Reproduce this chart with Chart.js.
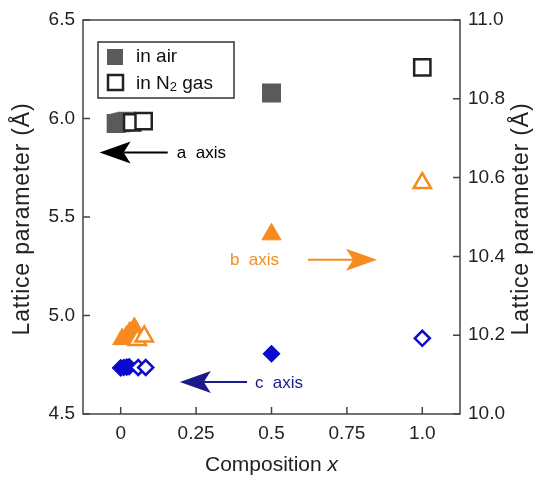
<!DOCTYPE html>
<html><head><meta charset="utf-8">
<script src="https://cdn.jsdelivr.net/npm/chart.js@4.4.1/dist/chart.umd.min.js"></script>
<style>html,body{margin:0;padding:0;background:#fff;}#wrap{width:541px;height:477px;}</style>
</head><body><div id="wrap"><canvas id="c" width="541" height="477"></canvas></div>
<script>
// ---- data ----
const xTickValues = [0, 0.25, 0.5, 0.75, 1.0];
const xTickLabels = ['0', '0.25', '0.5', '0.75', '1.0'];
const leftTickValues = [4.5, 5.0, 5.5, 6.0, 6.5];
const rightTickValues = [10.0, 10.2, 10.4, 10.6, 10.8, 11.0];

// a axis (left scale)
const aAirX = [-0.015, 0, 0.01, 0.02, 0.5];
const aAirY = [5.975, 5.978, 5.982, 5.986, 6.13];
const aN2X = [0.038, 0.076, 1.0];
const aN2Y = [5.98, 5.987, 6.26];
// b axis (right scale)
const bAirX = [0.005, 0.02, 0.03, 0.045, 0.5];
const bAirY = [10.19, 10.197, 10.207, 10.218, 10.456];
const bN2X = [0.055, 0.078, 1.0];
const bN2Y = [10.188, 10.197, 10.586];
// c axis (right scale)
const cAirX = [0, 0.01, 0.02, 0.028, 0.5];
const cAirY = [10.117, 10.118, 10.119, 10.12, 10.153];
const cN2X = [0.058, 0.083, 1.0];
const cN2Y = [10.118, 10.118, 10.192];

const legendLabels = ['in air', 'in N', '2', ' gas'];
const axisTitleY = 'Lattice parameter (Å)';
const axisTitleX = 'Composition ';
const axisTitleXItalic = 'x';
// arrow annotations in data units (left-scale y): tail x, tip x, y, label x
const arrowTexts = ['a  axis', 'b  axis', 'c  axis'];
const arrowTailX = [0.156, 0.621, 0.419];
const arrowTipX = [-0.07, 0.850, 0.196];
const arrowY = [5.828, 5.283, 4.662];
const arrowTextX = [0.186, 0.362, 0.445];

const FONT = '"Liberation Sans", Arial, Helvetica, sans-serif';
const ORANGE = '#f68b1f';
const BLUE = '#0a0ad0';
const NAVY = '#1a1a8c';
const GRAY = '#5a5a5a';
const DARK = '#222222';
const arrowColors = ['#000000', ORANGE, NAVY];

const pts = (xs, ys) => xs.map((x, i) => ({x: x, y: ys[i]}));

const data = {
  datasets: [
    {label: 'a in N2', data: pts(aN2X, aN2Y), yAxisID: 'y', pointStyle: 'rect', pointRadius: 11.5,
     backgroundColor: '#ffffff', borderColor: DARK, borderWidth: 2.5, order: 1},
    {label: 'b in N2', data: pts(bN2X, bN2Y), yAxisID: 'y2', pointStyle: 'triangle', pointRadius: 10,
     backgroundColor: '#ffffff', borderColor: ORANGE, borderWidth: 2.5, order: 1},
    {label: 'c in N2', data: pts(cN2X, cN2Y), yAxisID: 'y2', pointStyle: 'rectRot', pointRadius: 7.5,
     backgroundColor: '#ffffff', borderColor: BLUE, borderWidth: 2.5, order: 1},
    {label: 'a in air', data: pts(aAirX, aAirY), yAxisID: 'y', pointStyle: 'rect', pointRadius: 12,
     backgroundColor: GRAY, borderColor: GRAY, borderWidth: 2, order: 2},
    {label: 'b in air', data: pts(bAirX, bAirY), yAxisID: 'y2', pointStyle: 'triangle', pointRadius: 11,
     backgroundColor: ORANGE, borderColor: ORANGE, borderWidth: 1, order: 2},
    {label: 'c in air', data: pts(cAirX, cAirY), yAxisID: 'y2', pointStyle: 'rectRot', pointRadius: 8,
     backgroundColor: BLUE, borderColor: BLUE, borderWidth: 1.5, order: 2}
  ]
};

function vTitle(ctx, x, y, text) {
  ctx.save();
  ctx.translate(x, y);
  ctx.rotate(-Math.PI / 2);
  ctx.font = '23px ' + FONT;
  try { ctx.letterSpacing = '0.8px'; } catch (e) {}
  ctx.textAlign = 'center';
  ctx.textBaseline = 'middle';
  ctx.fillStyle = '#222';
  ctx.fillText(text, 0, 0);
  ctx.restore();
}

const frameAndTicks = {
  id: 'frameAndTicks',
  afterDatasetsDraw(chart) {
    const {ctx, chartArea: a, scales} = chart;
    ctx.save();
    ctx.strokeStyle = '#444';
    ctx.lineWidth = 1.5;
    ctx.strokeRect(a.left, a.top, a.right - a.left, a.bottom - a.top);
    ctx.beginPath();
    const L = 7;
    scales.x.ticks.forEach(t => { const p = scales.x.getPixelForValue(t.value); ctx.moveTo(p, a.bottom); ctx.lineTo(p, a.bottom - L); });
    scales.y.ticks.forEach(t => { const p = scales.y.getPixelForValue(t.value); ctx.moveTo(a.left, p); ctx.lineTo(a.left + L, p); });
    scales.y2.ticks.forEach(t => { const p = scales.y2.getPixelForValue(t.value); ctx.moveTo(a.right, p); ctx.lineTo(a.right - L, p); });
    ctx.stroke();

    // arrows and labels
    arrowTexts.forEach((txt, i) => {
      const y = scales.y.getPixelForValue(arrowY[i]);
      const x0 = scales.x.getPixelForValue(arrowTailX[i]);
      const x1 = scales.x.getPixelForValue(arrowTipX[i]);
      const dir = Math.sign(x1 - x0);
      const headLen = 31, headHalf = 11, notch = 7;
      ctx.strokeStyle = arrowColors[i];
      ctx.fillStyle = arrowColors[i];
      ctx.lineWidth = 2;
      ctx.beginPath();
      ctx.moveTo(x0, y);
      ctx.lineTo(x1 - dir * (headLen - notch), y);
      ctx.stroke();
      ctx.beginPath();
      ctx.moveTo(x1, y);
      ctx.lineTo(x1 - dir * headLen, y - headHalf);
      ctx.lineTo(x1 - dir * (headLen - notch), y);
      ctx.lineTo(x1 - dir * headLen, y + headHalf);
      ctx.closePath();
      ctx.fill();
      ctx.font = '17px ' + FONT;
      ctx.textAlign = 'left';
      ctx.textBaseline = 'middle';
      ctx.fillText(txt, scales.x.getPixelForValue(arrowTextX[i]), y + 1);
    });

    // legend
    ctx.strokeStyle = '#333';
    ctx.lineWidth = 1.5;
    ctx.strokeRect(98, 42, 136, 56);
    ctx.fillStyle = GRAY;
    ctx.fillRect(107, 49, 16, 16);
    ctx.strokeStyle = DARK;
    ctx.lineWidth = 2.5;
    ctx.strokeRect(108, 75, 15, 15);
    ctx.fillStyle = '#111';
    ctx.font = '19px ' + FONT;
    ctx.textAlign = 'left';
    ctx.textBaseline = 'middle';
    ctx.fillText(legendLabels[0], 136, 57);
    let tx = 136;
    ctx.fillText(legendLabels[1], tx, 84);
    tx += ctx.measureText(legendLabels[1]).width;
    ctx.font = '13px ' + FONT;
    ctx.fillText(legendLabels[2], tx, 87);
    tx += ctx.measureText(legendLabels[2]).width;
    ctx.font = '19px ' + FONT;
    ctx.fillText(legendLabels[3], tx, 84);

    // axis titles
    ctx.fillStyle = '#222';
    ctx.font = '21px ' + FONT;
    const w1 = ctx.measureText(axisTitleX).width;
    ctx.font = 'italic 21px ' + FONT;
    const w2 = ctx.measureText(axisTitleXItalic).width;
    const cx = scales.x.getPixelForValue(0.5);
    const sx = cx - (w1 + w2) / 2;
    ctx.font = '21px ' + FONT;
    ctx.fillText(axisTitleX, sx, 465);
    ctx.font = 'italic 21px ' + FONT;
    ctx.fillText(axisTitleXItalic, sx + w1, 465);

    const cy = (a.top + a.bottom) / 2 + 2;
    vTitle(ctx, 23, cy, axisTitleY);
    vTitle(ctx, 522, cy, axisTitleY);
    ctx.restore();
  }
};

new Chart(document.getElementById('c'), {
  type: 'scatter',
  data: data,
  options: {
    responsive: false,
    animation: false,
    devicePixelRatio: 1,
    layout: {padding: {top: 20, left: 0, right: 0, bottom: 0}},
    plugins: {legend: {display: false}, tooltip: {enabled: false}},
    scales: {
      x: {
        type: 'linear', min: -0.125, max: 1.125,
        afterBuildTicks: s => { s.ticks = xTickValues.map(v => ({value: v})); },
        afterFit: s => { s.height = 63; },
        grid: {display: false, drawTicks: false},
        border: {display: false},
        ticks: {color: '#222', font: {size: 19, family: FONT}, padding: 8, maxRotation: 0,
          callback: (v, i) => xTickLabels[i]}
      },
      y: {
        type: 'linear', position: 'left', min: 4.5, max: 6.5,
        afterBuildTicks: s => { s.ticks = leftTickValues.map(v => ({value: v})); },
        afterFit: s => { s.width = 83; },
        grid: {display: false, drawTicks: false},
        border: {display: false},
        ticks: {color: '#222', font: {size: 19, family: FONT}, padding: 8, callback: v => v.toFixed(1)}
      },
      y2: {
        type: 'linear', position: 'right', min: 10.0, max: 11.0,
        afterBuildTicks: s => { s.ticks = rightTickValues.map(v => ({value: v})); },
        afterFit: s => { s.width = 81; },
        grid: {display: false, drawTicks: false},
        border: {display: false},
        ticks: {color: '#222', font: {size: 19, family: FONT}, padding: 8, callback: v => v.toFixed(1)}
      }
    }
  },
  plugins: [frameAndTicks]
});
</script></body></html>
